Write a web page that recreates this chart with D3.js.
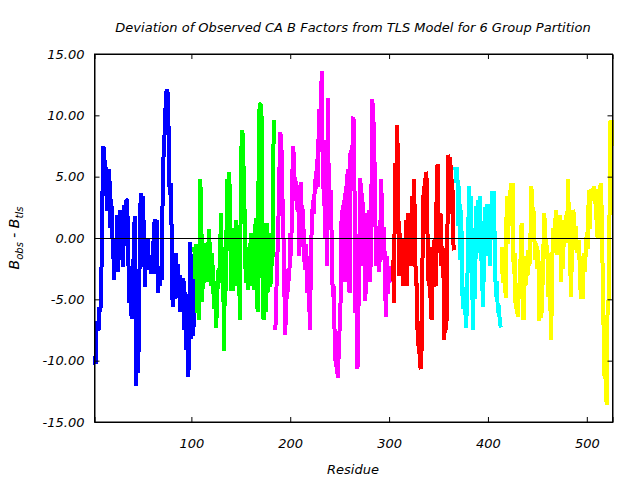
<!DOCTYPE html>
<html>
<head>
    <title>TLS deviation</title>
    <script src="https://cdnjs.cloudflare.com/ajax/libs/d3/7.8.5/d3.min.js"></script>
    <style>
        body { margin: 0; background: white; }
        text { font-family: "DejaVu Sans", sans-serif; font-style: italic; fill: black; }
        .series { fill: none; stroke-width: 4px; stroke-linejoin: bevel; shape-rendering: crispEdges; }
    </style>
</head>
<body>
    <svg id="chart"></svg>

    <script>
        // one group per TLS segment: first residue, colour, values (B_obs - B_tls)
        const groupStarts = [2, 103, 185, 304, 367, 414];
        const groupColors = ["#0000ff", "#00ff00", "#ff00ff", "#ff0000", "#00ffff", "#ffff00"];

        const blueVals = [-9.6, -10.3, -7.5, -6.8, -7.6, -5.6, -6.0, -3.0, 3.4, 7.5,
            6.8, 3.4, 5.8, 2.2, 4.3, 5.6, 0.8, 3.2, 0.3, -1.2,
            -3.4, -0.1, -2.6, 1.9, -2.8, 0.7, 2.3, -1.2, 1.9, -2.4,
            2.7, 0.0, 3.1, 3.1, -0.2, -5.3, -4.0, -6.2, -6.6, -4.0,
            0.9, 1.8, -12.1, -8.0, -11.0, -7.7, 1.9, 3.7, 1.5, 3.4,
            0.1, -4.0, -1.0, -2.6, 0.0, -2.2, -1.5, -2.9, -1.8, -2.9,
            0.9, 1.5, 0.3, 1.5, -4.5, -2.5, -3.9, -2.3, -3.4, 4.1,
            7.2, 8.6, 11.0, 12.1, 11.8, 8.8, 3.5, 4.5, 0.8, -5.6,
            -3.0, -5.0, -1.2, -4.8, -2.1, -4.9, -3.0, -6.0, -3.4, -5.5,
            -3.3, -7.5, -4.4, -9.1, -4.6, -11.3, -6.0, -0.3, -8.2, -1.5,
            -8.0, -3.5];

        const greenVals = [-0.7, -3.3, -0.5, -6.1, -1.0, -6.7, 4.8, 2.3, -5.2, -1.2,
            -3.7, -1.8, -0.4, -3.6, -0.8, 0.7, -2.3, -3.9, -1.2, -3.8,
            -5.8, -3.5, -7.3, -5.4, -2.6, -3.6, -1.2, 2.0, -3.7, -1.2,
            -9.2, -2.3, -4.3, 4.8, -0.2, 5.4, 3.6, -4.3, -1.2, -4.3,
            0.8, -3.9, 1.5, -1.2, -3.7, -0.4, -6.7, 4.2, 8.8, 8.4,
            5.0, 1.5, -3.7, -0.7, -4.2, -0.8, -3.9, 0.4, -2.6, -0.1,
            -4.2, -2.1, 1.6, -3.9, -6.0, 5.6, 10.9, 10.9, 9.9, -3.9,
            -6.7, 1.2, -6.0, 1.2, -4.5, -0.1, -2.2, -4.0, 0.4, -2.3,
            7.5, 9.6];

        const magentaVals = [-7.5, -4.3, -1.5, 1.2, 5.3, 8.6, 8.0, 3.7, 1.0, -4.0,
            -7.9, -4.5, -5.0, -2.5, -3.5, 0.4, -1.5, 4.7, 7.5, 6.0,
            3.0, 4.6, 2.3, 4.3, -1.5, 0.5, 4.6, 0.0, 2.4, -1.5,
            -2.6, -0.5, -4.5, -1.5, -4.5, -7.5, -1.2, 1.5, 3.1, 2.0,
            4.8, 4.0, 6.4, 4.2, 10.5, 7.0, 11.3, 13.6, 4.0, 8.0,
            0.0, 8.0, -2.3, 11.4, 4.0, 0.7, 3.9, -0.4, -4.8, -3.9,
            -8.3, -10.5, -9.3, -11.4, -9.6, -7.2, -5.0, 2.3, -0.4, 3.1,
            -3.6, 4.2, -2.3, 5.6, 0.5, -4.5, 7.2, 5.4, 7.5, 9.9,
            4.0, -6.1, -2.0, -10.7, -6.0, -0.1, 4.9, 1.0, 3.7, -2.3,
            0.6, -5.1, -1.6, 2.0, -0.8, 2.3, -3.6, 2.3, 11.3, 10.0,
            7.7, 2.1, -2.3, 1.0, -0.7, -2.8, -0.1, 4.8, 1.5, -1.8,
            0.9, -4.3, -6.4, -1.5, -4.6, -2.3, -3.6, -2.3, -3.0];

        const redVals = [-1.8, -5.3, 6.1, 1.5, 9.2, 6.5, -3.1, 0.4, -2.3, -0.1,
            -3.9, 0.0, -3.2, 1.5, -3.9, 2.0, -0.5, 0.7, -2.3, 3.4,
            -1.2, 4.8, 2.0, -3.9, -3.7, -8.8, -6.8, -10.2, -10.7, -8.8,
            0.0, 4.2, 2.0, 5.4, 4.8, -0.4, -3.9, -0.7, -5.3, -6.7,
            -1.5, -4.0, 0.0, -3.9, 3.1, 6.0, 1.0, -1.2, 2.0, -2.3,
            -0.7, -2.9, -8.3, -1.2, -7.5, 0.5, 6.8, 5.3, 6.6, 2.0,
            4.8, -0.5, -1.0];

        const cyanVals = [5.8, 4.5, 5.8, 1.0, 4.2, -1.8, 2.3, -4.3, -5.8, -4.0,
            -5.8, -7.3, -4.5, 0.4, 4.2, 1.0, 3.4, -3.5, -7.5, -1.0,
            -5.0, 2.6, -0.1, 3.1, -1.2, 3.4, -0.8, -2.9, -5.6, -1.7,
            2.5, 0.0, 2.8, -1.5, 2.3, -2.3, 1.2, 3.8, 0.0, 3.8,
            -1.2, -4.8, -3.5, -6.1, -5.5, -6.8, -7.3];

        const yellowVals = [-0.7, -3.7, -1.0, -3.0, -4.9, 3.4, -0.5, 3.0, 1.0, 4.5,
            1.5, 4.5, -2.9, -1.2, -5.8, -4.0, -6.4, -3.7, -5.0, -1.5,
            1.2, -4.5, -6.7, -1.5, -3.9, -1.5, -3.1, -1.0, -2.3, 0.1,
            4.2, 1.0, 2.5, -0.1, -1.8, -0.4, -2.5, -1.0, -6.8, -3.5,
            -6.5, -4.5, -1.2, 2.0, 0.4, -1.3, -0.6, -4.8, -1.2, -5.0,
            -8.3, -2.0, 0.8, -1.2, 1.2, 2.3, -1.4, 1.4, 0.2, 1.9,
            -3.6, -0.7, -2.5, 1.5, 0.2, 1.9, -0.4, 4.8, 1.2, -1.2,
            -4.8, -1.0, 2.3, 1.9, -1.0, 1.0, -1.2, -0.4, -0.2, -2.8,
            -5.0, -1.5, -5.0, -1.2, -2.8, -1.0, 0.5, -0.9, 3.9, 0.7,
            4.0, 3.0, 3.5, 4.2, 2.8, 4.0, 1.0, -0.1, 3.9, 2.6,
            4.5, 2.5, -2.6, -7.5, -11.5, -9.5, -13.6, -6.0, -5.0, 2.0,
            9.6, 7.5, 9.6];

        const groupVals = [blueVals, greenVals, magentaVals, redVals, cyanVals, yellowVals];

        const xDomain = [2, 526];
        const yDomain = [-15, 15];
        const xTicks = [100, 200, 300, 400, 500];
        const yTicks = [-15, -10, -5, 0, 5, 10, 15];

        const width = 640, height = 480;
        const margin = {top: 54, right: 27.5, bottom: 58, left: 94.5};

        const svg = d3.select("#chart")
            .attr("width", width)
            .attr("height", height);

        const x = d3.scaleLinear().domain(xDomain).range([margin.left, width - margin.right]);
        const y = d3.scaleLinear().domain(yDomain).range([height - margin.bottom, margin.top]);

        const line = d3.line()
            .x(d => x(d.res))
            .y(d => y(d.v));

        groupVals.forEach((vals, gi) => {
            const pts = vals.map((v, i) => ({res: groupStarts[gi] + i, v: v}));
            svg.append("path")
                .attr("class", "series")
                .attr("stroke", groupColors[gi])
                .attr("d", line(pts));
        });

        // zero line
        svg.append("line")
            .attr("x1", x(xDomain[0])).attr("x2", x(xDomain[1]))
            .attr("y1", Math.round(y(0)) + 0.5).attr("y2", Math.round(y(0)) + 0.5)
            .attr("stroke", "black");

        const fmt = d => d.toFixed(2);

        svg.append("g")
            .attr("transform", `translate(${margin.left},0)`)
            .call(d3.axisLeft(y).tickValues(yTicks).tickSize(-5).tickPadding(10).tickFormat(fmt));
        svg.append("g")
            .attr("transform", `translate(${width - margin.right},0)`)
            .call(d3.axisRight(y).tickValues(yTicks).tickSize(-5).tickFormat(""));
        svg.append("g")
            .attr("transform", `translate(0,${height - margin.bottom})`)
            .call(d3.axisBottom(x).tickValues(xTicks).tickSize(-5).tickPadding(17).tickFormat(d3.format("d")));
        svg.append("g")
            .attr("transform", `translate(0,${margin.top})`)
            .call(d3.axisTop(x).tickValues(xTicks).tickSize(-5).tickFormat(""));

        svg.selectAll(".domain, .tick line").attr("stroke", "black");
        svg.selectAll(".tick text").attr("font-size", 13).attr("font-family", "DejaVu Sans").attr("font-style", "italic");

        // frame
        svg.append("rect")
            .attr("x", margin.left).attr("y", margin.top)
            .attr("width", width - margin.left - margin.right)
            .attr("height", height - margin.top - margin.bottom)
            .attr("fill", "none").attr("stroke", "black");

        svg.append("text")
            .attr("x", 353).attr("y", 32)
            .attr("text-anchor", "middle")
            .attr("font-size", 13)
            .text("Deviation of Observed CA B Factors from TLS Model for 6 Group Partition");

        svg.append("text")
            .attr("x", 353).attr("y", 474)
            .attr("text-anchor", "middle")
            .attr("font-size", 13)
            .text("Residue");

        const yt = svg.append("text")
            .attr("transform", "translate(19,238) rotate(-90)")
            .attr("text-anchor", "middle")
            .attr("font-size", 14);
        yt.append("tspan").text("B");
        yt.append("tspan").attr("dy", 4).attr("font-size", 10).text("obs");
        yt.append("tspan").attr("dy", -4).text(" - B");
        yt.append("tspan").attr("dy", 4).attr("font-size", 10).text("tls");
    </script>
</body>
</html>
